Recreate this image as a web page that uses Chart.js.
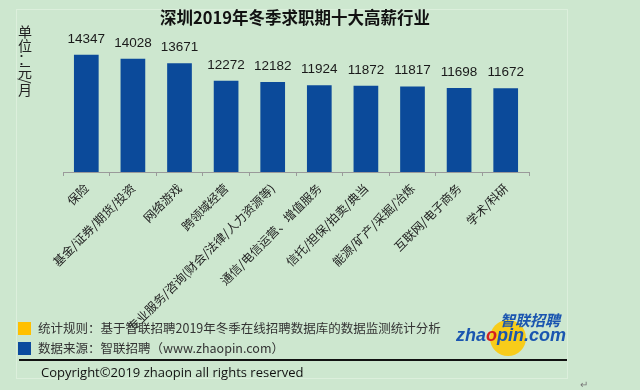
<!DOCTYPE html>
<html>
<head>
<meta charset="utf-8">
<script src="https://cdn.jsdelivr.net/npm/chart.js@4.4.1/dist/chart.umd.min.js"></script>
<style>
  body { margin: 0; background: #cde7cf; width: 640px; height: 390px; overflow: hidden; position: relative; font-family: "Noto Sans CJK SC", sans-serif; }
  #panel { position: absolute; left: 16px; top: 9px; width: 550px; height: 368px; border: 1px solid #dcefdc; }
  #chart { position: absolute; left: 0; top: 0; }
  .foot { position: absolute; font-size: 12.5px; color: #333; white-space: nowrap; line-height: 16px; }
  .sq { position: absolute; width: 13px; height: 13px; }
  #rule { position: absolute; left: 19px; top: 359px; width: 548px; height: 2px; background: #111; }
  #logo-ball { position: absolute; left: 490px; top: 320px; width: 36px; height: 36px; border-radius: 50%; background: #f7cc1a; }
  .logo { position: absolute; font-family: "Liberation Sans", sans-serif; font-weight: bold; font-style: italic; color: #1a55b0; white-space: nowrap; }
</style>
</head>
<body>
<div id="panel"></div>
<div id="logo-ball"></div>
<canvas id="chart" width="640" height="390"></canvas>
<div class="sq" style="left:18px;top:322px;background:#ffc000"></div>
<div class="foot" style="left:38px;top:320px">统计规则：基于智联招聘2019年冬季在线招聘数据库的数据监测统计分析</div>
<div class="sq" style="left:18px;top:342px;background:#0b4a9e"></div>
<div class="foot" style="left:38px;top:340px">数据来源：智联招聘（www.zhaopin.com）</div>
<div id="rule"></div>
<div class="foot" style="left:41px;top:364px;font-family:'Open Sans',sans-serif;color:#111;font-size:13px">Copyright©2019 zhaopin all rights reserved</div>
<div class="logo" style="left:500px;top:312px;font-family:'Noto Sans CJK SC';font-size:15px;line-height:16px">智联招聘</div>
<div class="logo" style="left:456px;top:326px;font-size:18px;line-height:18px">zha<span style="color:#d42020">o</span>pin.com</div>
<div style="position:absolute;left:580px;top:376px;font-size:10px;color:#777">↵</div>
<script>
const titleText = "深圳2019年冬季求职期十大高薪行业";
const unitText = ["单", "位", "：", "元", "/", "月"];
const industries = [
  "保险",
  "基金/证券/期货/投资",
  "网络游戏",
  "跨领域经营",
  "专业服务/咨询(财会/法律/人力资源等)",
  "通信/电信运营、增值服务",
  "信托/担保/拍卖/典当",
  "能源/矿产/采掘/冶炼",
  "互联网/电子商务",
  "学术/科研"
];
const salaries = [14347, 14028, 13671, 12272, 12182, 11924, 11872, 11817, 11698, 11672];

const decor = {
  id: "decor",
  afterDraw(chart) {
    const c = chart.ctx;
    c.save();
    // title
    c.fillStyle = "#111";
    c.font = "bold 16.5px 'Noto Sans CJK SC'";
    c.textAlign = "center";
    c.textBaseline = "middle";
    c.fillText(titleText, 295, 18);
    // unit label, stacked vertically
    c.font = "14px 'Noto Sans CJK SC'";
    c.fillStyle = "#222";
    const ys = [32, 46, 59, 72, 81, 90];
    unitText.forEach((ch, i) => {
      c.save();
      c.translate(25, ys[i]);
      if (ch === "/") c.rotate(Math.PI / 2);
      c.fillText(ch, 0, 0);
      c.restore();
    });
    // value labels
    c.font = "13.5px 'Liberation Sans'";
    c.fillStyle = "#1a1a1a";
    c.textBaseline = "bottom";
    chart.getDatasetMeta(0).data.forEach((bar, i) => {
      c.fillText(String(salaries[i]), bar.x, bar.y - 9);
    });
    c.restore();
  }
};

new Chart(document.getElementById("chart"), {
  type: "bar",
  data: {
    labels: industries,
    datasets: [{
      data: salaries,
      backgroundColor: "#0b4a9a",
      barPercentage: 0.53,
      categoryPercentage: 1
    }]
  },
  options: {
    responsive: false,
    animation: false,
    layout: { padding: { left: 63, right: 111, top: 34, bottom: 0 } },
    plugins: { legend: { display: false }, tooltip: { enabled: false } },
    scales: {
      x: {
        afterFit(s) { s.height = 218; },
        grid: { drawOnChartArea: false, drawTicks: true, tickLength: 4, color: "#9a9a9a", offset: true },
        border: { display: true, color: "#9a9a9a" },
        ticks: {
          autoSkip: false,
          minRotation: 45,
          maxRotation: 45,
          padding: 5,
          color: "#222",
          font: { family: "Noto Sans CJK SC", size: 12 }
        }
      },
      y: {
        display: false,
        min: 5000,
        max: 16000
      }
    }
  },
  plugins: [decor]
});
</script>
</body>
</html>
